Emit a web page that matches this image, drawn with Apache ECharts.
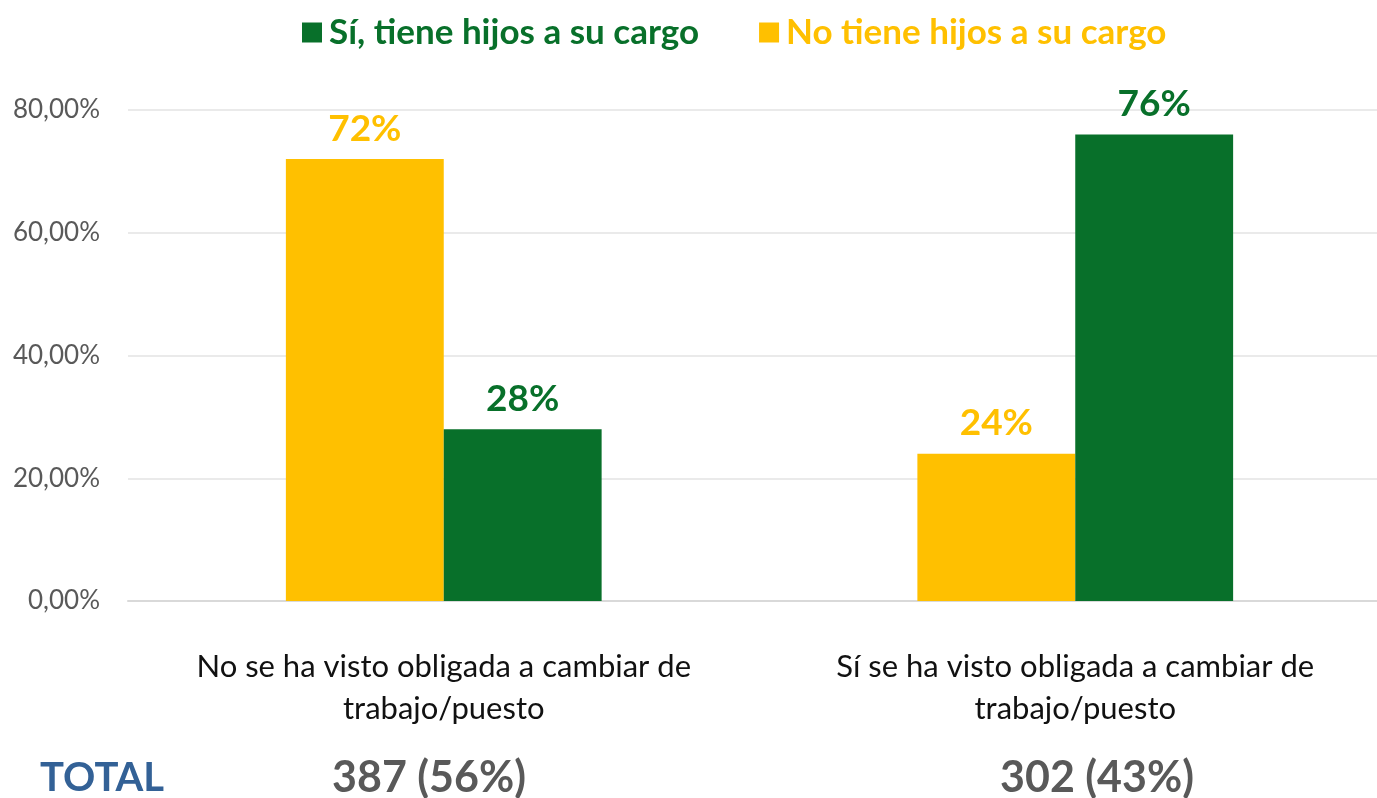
<!DOCTYPE html>
<html>
<head>
<meta charset="utf-8">
<script src="https://cdn.jsdelivr.net/npm/echarts@6/dist/echarts.min.js"></script>
<style>
  html, body { margin: 0; padding: 0; background: #ffffff; overflow: hidden; }
  #chart { width: 1391px; height: 798px; }
</style>
</head>
<body>
<div id="chart"></div>
<script>
// Categories (situación laboral) and series values in percent
const categories = [
  'No se ha visto obligada a cambiar de\ntrabajo/puesto',
  'Sí se ha visto obligada a cambiar de\ntrabajo/puesto'
];
const seriesNames = ['No tiene hijos a su cargo', 'Sí, tiene hijos a su cargo'];
const noHijos = [72, 24];
const siHijos = [28, 76];
const totalLabel = 'TOTAL';
const totals = ['387 (56%)', '302 (43%)'];
const yTicks = [0, 20, 40, 60, 80];

const FONT = 'Lato, "Open Sans", sans-serif';
const GREEN = '#08702A';
const YELLOW = '#FFC000';

const chart = echarts.init(document.getElementById('chart'));

const fmtPct = v => v.toFixed(2).replace('.', ',') + '%';

const barLabel = color => ({
  show: true,
  position: 'top',
  distance: 12,
  color: color,
  fontSize: 37,
  fontWeight: 'bold',
  fontFamily: FONT,
  formatter: p => p.value + '%'
});

chart.setOption({
  animation: false,
  textStyle: { fontFamily: FONT },
  legend: {
    top: 10,
    left: 297,
    itemWidth: 20,
    itemHeight: 20,
    itemGap: 60,
    data: [
      { name: seriesNames[1], textStyle: { color: GREEN } },
      { name: seriesNames[0], textStyle: { color: YELLOW } }
    ],
    textStyle: { fontFamily: FONT, fontSize: 35, fontWeight: 'bold', padding: [0, 0, 0, 2] },
    icon: 'rect'
  },
  grid: { left: 128, right: 0, top: 110, bottom: 197 },
  xAxis: {
    type: 'category',
    data: categories,
    axisLine: { lineStyle: { color: '#D9D9D9', width: 2 } },
    axisTick: { show: false },
    axisLabel: {
      interval: 0,
      color: '#111111',
      fontSize: 31,
      lineHeight: 42,
      margin: 45,
      fontFamily: FONT
    }
  },
  yAxis: {
    type: 'value',
    min: yTicks[0],
    max: yTicks[yTicks.length - 1],
    interval: 20,
    axisLine: { show: false },
    axisTick: { show: false },
    splitLine: { lineStyle: { color: '#E3E3E3', width: 1.5 } },
    axisLabel: {
      color: '#595959',
      fontSize: 26,
      margin: 28,
      fontFamily: FONT,
      formatter: fmtPct
    }
  },
  series: [
    {
      name: seriesNames[0],
      type: 'bar',
      data: noHijos,
      barGap: '0%',
      barCategoryGap: '50%',
      itemStyle: { color: YELLOW },
      label: barLabel(YELLOW)
    },
    {
      name: seriesNames[1],
      type: 'bar',
      data: siHijos,
      itemStyle: { color: GREEN },
      label: barLabel(GREEN)
    }
  ],
  graphic: [
    {
      type: 'text', x: 40, y: 778,
      style: { text: totalLabel, fill: '#336196', font: 'bold 40px ' + FONT, textAlign: 'left', textVerticalAlign: 'middle' }
    },
    {
      type: 'text', x: 429, y: 778,
      style: { text: totals[0], fill: '#595959', font: 'bold 43px ' + FONT, textAlign: 'center', textVerticalAlign: 'middle' }
    },
    {
      type: 'text', x: 1097, y: 778,
      style: { text: totals[1], fill: '#595959', font: 'bold 43px ' + FONT, textAlign: 'center', textVerticalAlign: 'middle' }
    }
  ]
});
</script>
</body>
</html>
